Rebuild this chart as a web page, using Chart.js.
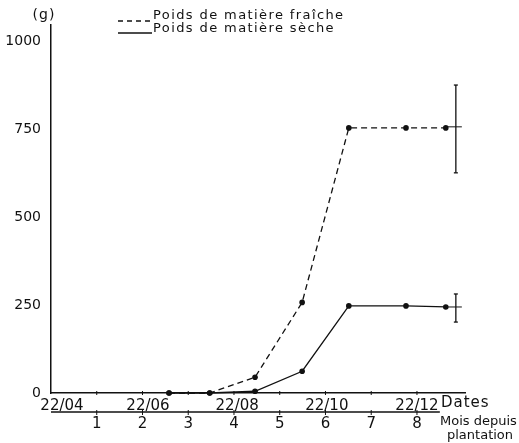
<!DOCTYPE html>
<html>
<head>
<meta charset="utf-8">
<script src="https://cdn.jsdelivr.net/npm/chart.js@4/dist/chart.umd.min.js"></script>
<style>
  html, body { margin: 0; padding: 0; background: #fff; }
  #wrap { width: 519px; height: 443px; }
</style>
</head>
<body>
<div id="wrap"><canvas id="chart" width="519" height="443"></canvas></div>
<script>
// months after planting for each sample
var months = [2.58, 3.47, 4.46, 5.49, 6.51, 7.76, 8.63];
var fresh = [0, 0, 45, 258, 755, 755, 755];   // Poids de matière fraîche (g)
var dry = [0, 0, 5, 62, 248, 248, 245];       // Poids de matière sèche (g)

// error bars at the end of the curves
var errMonth = 8.85;
var freshErr = [758, 627, 877];   // mean, low, high
var dryErr = [245, 202, 282];

var yTicks = [0, 250, 500, 750, 1000];
var dateMonths = [0.24, 2.12, 4.07, 6.03, 8.0];
var dateLabels = ["22/04", "22/06", "22/08", "22/10", "22/12"];
var monthTicks = [1, 2, 3, 4, 5, 6, 7, 8];

var ink = "#111";
var fontFam = "'DejaVu Sans', sans-serif";

function pts(xs, ys) {
    return xs.map(function (x, i) { return { x: x, y: ys[i] }; });
}

var extras = {
    id: "extras",
    afterDraw: function (chart) {
        var ctx = chart.ctx;
        var xs = chart.scales.x;
        var ys = chart.scales.y;
        ctx.save();
        ctx.strokeStyle = ink;
        ctx.fillStyle = ink;

        // unit
        ctx.font = "14px " + fontFam;
        ctx.textAlign = "center";
        ctx.textBaseline = "middle";
        ctx.letterSpacing = "1px";
        ctx.fillText("(g)", 44, 15);

        // legend
        ctx.lineWidth = 1.3;
        ctx.setLineDash([5, 4]);
        ctx.beginPath(); ctx.moveTo(118, 21); ctx.lineTo(152, 21); ctx.stroke();
        ctx.setLineDash([]);
        ctx.beginPath(); ctx.moveTo(118, 33); ctx.lineTo(152, 33); ctx.stroke();
        ctx.font = "13px " + fontFam;
        ctx.textAlign = "left";
        ctx.letterSpacing = "1.4px";
        ctx.fillText("Poids de matière fraîche", 153, 16);
        ctx.fillText("Poids de matière sèche", 153, 29);

        // month ticks on the date axis
        var y0 = ys.getPixelForValue(0);
        ctx.lineWidth = 1;
        monthTicks.forEach(function (m) {
            var px = xs.getPixelForValue(m);
            ctx.beginPath(); ctx.moveTo(px, y0 - 2); ctx.lineTo(px, y0 + 2); ctx.stroke();
        });

        // second axis: months since planting
        var y2 = 412;
        ctx.lineWidth = 1.3;
        ctx.beginPath(); ctx.moveTo(xs.getPixelForValue(0), y2); ctx.lineTo(xs.getPixelForValue(8.5), y2); ctx.stroke();
        ctx.lineWidth = 1;
        monthTicks.forEach(function (m) {
            var px = xs.getPixelForValue(m);
            ctx.beginPath(); ctx.moveTo(px, y2 - 2); ctx.lineTo(px, y2 + 3); ctx.stroke();
        });

        ctx.font = "15px " + fontFam;
        ctx.letterSpacing = "1px";
        ctx.fillText("Dates", 441, 403);
        ctx.font = "13px " + fontFam;
        ctx.letterSpacing = "0px";
        ctx.fillText("Mois depuis", 440, 422);
        ctx.fillText("plantation", 447, 436);

        // error bars
        [freshErr, dryErr].forEach(function (e) {
            var px = xs.getPixelForValue(errMonth);
            var pm = ys.getPixelForValue(e[0]);
            var pl = ys.getPixelForValue(e[1]);
            var ph = ys.getPixelForValue(e[2]);
            ctx.lineWidth = 1.3;
            ctx.beginPath(); ctx.moveTo(px, ph); ctx.lineTo(px, pl); ctx.stroke();
            ctx.beginPath(); ctx.moveTo(px - 2, ph); ctx.lineTo(px + 2, ph); ctx.stroke();
            ctx.beginPath(); ctx.moveTo(px - 2, pl); ctx.lineTo(px + 2, pl); ctx.stroke();
            ctx.lineWidth = 1;
            ctx.beginPath(); ctx.moveTo(xs.getPixelForValue(months[months.length - 1]), pm); ctx.lineTo(px + 6, pm); ctx.stroke();
        });
        ctx.restore();
    }
};

var ctx = document.getElementById("chart").getContext("2d");
var chart = new Chart(ctx, {
    type: "line",
    data: {
        datasets: [{
            label: "Poids de matière fraîche",
            data: pts(months, fresh),
            borderColor: ink,
            borderWidth: 1.3,
            borderDash: [6, 4],
            pointRadius: 2.8,
            pointBackgroundColor: ink,
            pointBorderWidth: 0,
            tension: 0,
            clip: false
        }, {
            label: "Poids de matière sèche",
            data: pts(months, dry),
            borderColor: ink,
            borderWidth: 1.3,
            pointRadius: 2.8,
            pointBackgroundColor: ink,
            pointBorderWidth: 0,
            tension: 0,
            clip: false
        }]
    },
    options: {
        responsive: false,
        animation: false,
        layout: { padding: { top: 25, right: 54, left: 0, bottom: 0 } },
        plugins: { legend: { display: false }, tooltip: { enabled: false } },
        scales: {
            x: {
                type: "linear",
                position: "bottom",
                weight: 0,
                min: 0,
                max: 9.05,
                afterBuildTicks: function (s) { s.ticks = dateMonths.map(function (v) { return { value: v }; }); },
                afterFit: function (s) { s.height = 18; },
                grid: { display: false },
                border: { display: true, color: ink, width: 1.5 },
                ticks: {
                    autoSkip: false, maxRotation: 0, padding: -4, color: ink,
                    font: { family: fontFam, size: 15 },
                    callback: function (v, i) { return dateLabels[i]; }
                }
            },
            x2: {
                type: "linear",
                position: "bottom",
                weight: 1,
                min: 0,
                max: 9.05,
                afterBuildTicks: function (s) { s.ticks = monthTicks.map(function (v) { return { value: v }; }); },
                afterFit: function (s) { s.height = 32; },
                grid: { display: false },
                border: { display: false },
                ticks: {
                    autoSkip: false, maxRotation: 0, padding: -4, color: ink,
                    font: { family: fontFam, size: 15 },
                    callback: function (v) { return String(v); }
                }
            },
            y: {
                min: 0,
                max: 1048,
                afterBuildTicks: function (s) { s.ticks = yTicks.map(function (v) { return { value: v }; }); },
                afterFit: function (s) { s.width = 51; },
                grid: { display: false },
                border: { display: true, color: ink, width: 1.5 },
                ticks: {
                    padding: 2, color: ink,
                    font: { family: fontFam, size: 14 },
                    callback: function (v) { return String(v); }
                }
            }
        }
    },
    plugins: [extras]
});
</script>
</body>
</html>
